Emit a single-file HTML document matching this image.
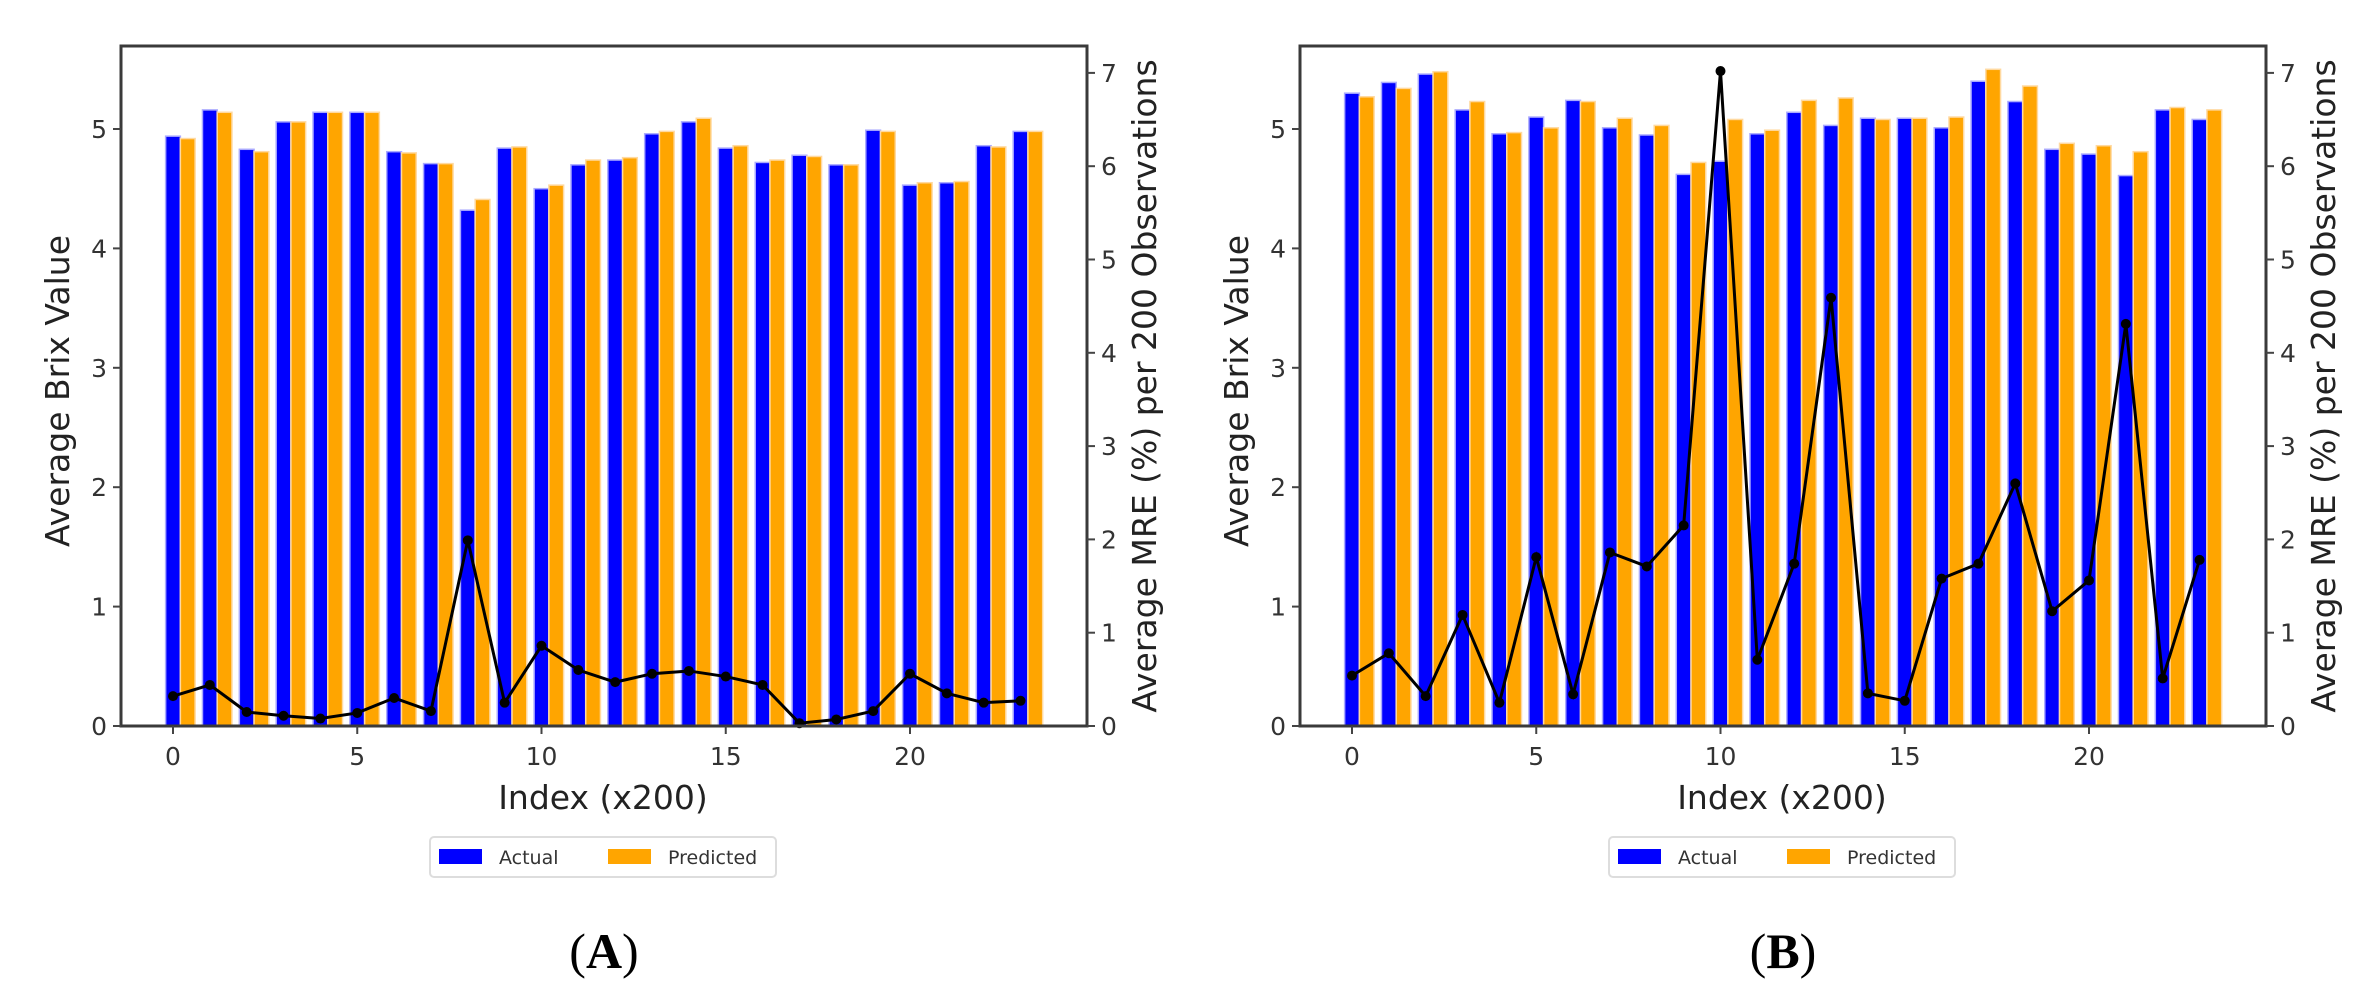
<!DOCTYPE html>
<html><head><meta charset="utf-8">
<style>
html,body{margin:0;padding:0;background:#fff;}
svg{display:block;font-family:"DejaVu Sans","Liberation Sans",sans-serif;}
</style></head>
<body>
<svg id="fig" width="2372" height="1004" viewBox="0 0 2372 1004" xmlns="http://www.w3.org/2000/svg"></svg>
<script>
const categories = [0,1,2,3,4,5,6,7,8,9,10,11,12,13,14,15,16,17,18,19,20,21,22,23];
const xTicks = [0,5,10,15,20];
const brixTicks = [0,1,2,3,4,5];
const mreTicks = [0,1,2,3,4,5,6,7];
const actualA = [4.94,5.16,4.83,5.06,5.14,5.14,4.81,4.71,4.32,4.84,4.50,4.70,4.74,4.96,5.06,4.84,4.72,4.78,4.70,4.99,4.53,4.55,4.86,4.98];
const predictedA = [4.92,5.14,4.81,5.06,5.14,5.14,4.80,4.71,4.41,4.85,4.53,4.74,4.76,4.98,5.09,4.86,4.74,4.77,4.70,4.98,4.55,4.56,4.85,4.98];
const mreA = [0.32,0.44,0.15,0.11,0.08,0.14,0.30,0.16,1.99,0.25,0.86,0.60,0.47,0.56,0.59,0.53,0.44,0.03,0.07,0.16,0.56,0.35,0.25,0.27];
const actualB = [5.30,5.39,5.46,5.16,4.96,5.10,5.24,5.01,4.95,4.62,4.73,4.96,5.14,5.03,5.09,5.09,5.01,5.40,5.23,4.83,4.79,4.61,5.16,5.08];
const predictedB = [5.27,5.34,5.48,5.23,4.97,5.01,5.23,5.09,5.03,4.72,5.08,4.99,5.24,5.26,5.08,5.09,5.10,5.50,5.36,4.88,4.86,4.81,5.18,5.16];
const mreB = [0.54,0.78,0.32,1.19,0.25,1.81,0.34,1.86,1.71,2.15,7.02,0.71,1.74,4.59,0.35,0.27,1.58,1.74,2.60,1.23,1.56,4.31,0.51,1.78];

const NS = "http://www.w3.org/2000/svg";
const svg = document.getElementById('fig');
function mk(tag, attrs, parent, text){
  const e = document.createElementNS(NS, tag);
  for (const k in attrs) e.setAttribute(k, attrs[k]);
  if (text !== undefined) e.textContent = text;
  (parent||svg).appendChild(e);
  return e;
}

function panel(ox, actual, predicted, mre, letter){
  const L = ox + 121, R = ox + 1087, T = 46, B = 726;
  const x0 = ox + 173, ux = 36.85;
  const xs = v => x0 + v*ux;
  const yB = v => B - v*119.4;
  const yM = v => B - v*93.3;
  const g = mk('g', {});
  
  
  const bw = 0.4*ux;
  categories.forEach((c,i)=>{
    const b = mk('rect', {x:xs(c)-bw/2, y:yB(actual[i]), width:bw, height:B-yB(actual[i]), fill:'#0000ff', stroke:'#aaaaff', 'stroke-width':1.5}, g);
    
    
    const o = mk('rect', {x:xs(c)+bw/2, y:yB(predicted[i]), width:bw, height:B-yB(predicted[i]), fill:'#ffa500', stroke:'#ffd9a0', 'stroke-width':1.5}, g);
    
    
  });
  const pts = categories.map((c,i)=>xs(c)+','+yM(mre[i])).join(' ');
  const ln = mk('polyline', {points:pts, fill:'none', stroke:'#000', 'stroke-width':3}, g);
  
  
  categories.forEach((c,i)=>{
    const p = mk('circle', {cx:xs(c), cy:yM(mre[i]), r:5, fill:'#000'}, g);
    
    
  });
  const fr = mk('rect', {x:L, y:T, width:R-L, height:B-T, fill:'none', stroke:'#3a3a3a', 'stroke-width':3}, g);
  
  
  xTicks.forEach(t=>{
    mk('line', {x1:xs(t), x2:xs(t), y1:B, y2:B+8, stroke:'#444', 'stroke-width':2}, g);
    const tl = mk('text', {x:xs(t), y:B+39, 'text-anchor':'middle', 'font-size':25, fill:'#333'}, g, String(t));
    
    
  });
  brixTicks.forEach(t=>{
    mk('line', {x1:L-8, x2:L, y1:yB(t), y2:yB(t), stroke:'#444', 'stroke-width':2}, g);
    const tl = mk('text', {x:L-14, y:yB(t)+9, 'text-anchor':'end', 'font-size':25, fill:'#333'}, g, String(t));
    
    
  });
  mreTicks.forEach(t=>{
    mk('line', {x1:R, x2:R+8, y1:yM(t), y2:yM(t), stroke:'#444', 'stroke-width':2}, g);
    const tl = mk('text', {x:R+14, y:yM(t)+9, 'text-anchor':'start', 'font-size':25, fill:'#333'}, g, String(t));
    
    
  });
  const yl = mk('text', {x:0, y:0, transform:`translate(${ox+69},${(T+B)/2+5}) rotate(-90)`, 'text-anchor':'middle', 'font-size':33, fill:'#222'}, g, 'Average Brix Value');
  
  
  const yr = mk('text', {x:0, y:0, transform:`translate(${ox+1156},${(T+B)/2}) rotate(-90)`, 'text-anchor':'middle', 'font-size':33, fill:'#222'}, g, 'Average MRE (%) per 200 Observations');
  
  
  const xl = mk('text', {x:ox+603, y:809, 'text-anchor':'middle', 'font-size':33, fill:'#222'}, g, 'Index (x200)');
  
  
  const lg = mk('g', {}, g);
  
  
  mk('rect', {x:ox+430, y:837, width:346, height:40, rx:4, fill:'#fff', stroke:'#ddd', 'stroke-width':2}, lg);
  mk('rect', {x:ox+439, y:849, width:43, height:15, fill:'#0000ff'}, lg);
  mk('text', {x:ox+499, y:864, 'font-size':19, fill:'#333'}, lg, 'Actual');
  mk('rect', {x:ox+608, y:849, width:43, height:15, fill:'#ffa500'}, lg);
  mk('text', {x:ox+668, y:864, 'font-size':19, fill:'#333'}, lg, 'Predicted');
  const pl = mk('text', {x:ox+604, y:968, 'text-anchor':'middle', 'font-size':50, fill:'#000', 'font-family':'"Liberation Serif",serif'}, g);
  
  
  mk('tspan', {}, pl, '(');
  mk('tspan', {'font-weight':'bold'}, pl, letter);
  mk('tspan', {}, pl, ')');
}
panel(0, actualA, predictedA, mreA, 'A');
panel(1179, actualB, predictedB, mreB, 'B');
</script>
</body></html>
